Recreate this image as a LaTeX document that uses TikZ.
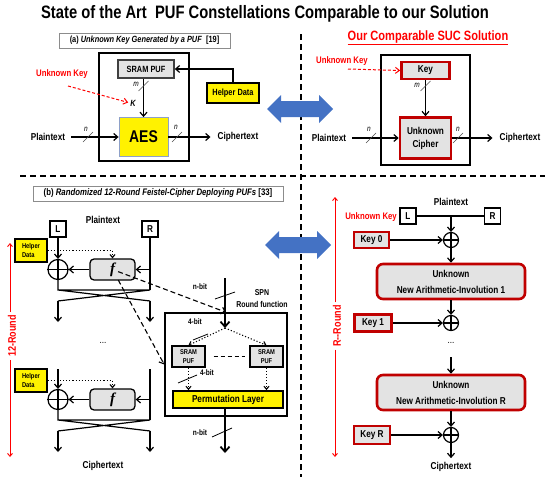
\documentclass[tikz,border=0pt]{standalone}
\usepackage{fontspec}
\setmainfont{Liberation Sans}[FakeStretch=0.82]
\newfontfamily\funcfont{Liberation Serif}
\usetikzlibrary{arrows.meta, positioning, calc}

\definecolor{sucred}{HTML}{C00000}
\definecolor{keyred}{HTML}{FF0000}
\definecolor{boxgray}{HTML}{E3E3E3}
\definecolor{swapblue}{HTML}{4472C4}
\definecolor{aesline}{HTML}{8EA0C8}

\newcommand\fsz[1]{\fontsize{#1}{#1}\selectfont}

\begin{document}
\begin{tikzpicture}[x=1pt, y=-1pt,
    every node/.style={inner sep=0pt, font=\bfseries\fsz{10}},
    frame/.style={draw, line width=1.5pt},
    caption/.style={draw=black!45, line width=0.9pt, font=\bfseries\fsz{9}},
    puf/.style={draw=black!75, fill=boxgray, line width=1.6pt},
    helper/.style={draw, fill=yellow, line width=1.3pt},
    suc/.style={draw=sucred, fill=boxgray, line width=2.6pt},
    half/.style={draw, line width=1.3pt, minimum width=16pt, minimum height=16pt},
    xor/.style={draw, circle, line width=1.2pt},
    wire/.style={line width=1.2pt},
    link/.style={wire, -{Straight Barb[length=4pt, width=7pt]}},
    biglink/.style={line width=1.8pt, -{Straight Barb[length=5pt, width=9pt]}},
    dotlink/.style={dotted, line width=1.1pt, -{Straight Barb[length=3pt, width=5pt]}},
    dashlink/.style={dash pattern=on 5pt off 3pt, line width=1.1pt, -{Straight Barb[length=4pt, width=7pt]}},
    keylink/.style={keyred, dash pattern=on 3pt off 2pt, line width=1pt, -{Straight Barb[length=4pt, width=6pt]}},
    divider/.style={dash pattern=on 6pt off 4pt, line width=1.8pt},
    bluearrow/.style={fill=swapblue},
    busmark/.style={line width=0.7pt, black!70},
    buslbl/.style={font=\itshape\fsz{8}},
    bitlbl/.style={font=\bfseries\fsz{8}},
    roundlbl/.style={keyred, rotate=90, font=\bfseries\fsz{11}},
    roundline/.style={keyred, line width=0.9pt, -{Straight Barb[length=3pt, width=5pt]}},
    ukey/.style={keyred, font=\bfseries\fsz{9.5}},
    pics/bus/.style={code={\draw[busmark] (-5,5) -- (5,-5);}}]

\useasboundingbox (0,0) rectangle (550,479);

\node[font=\bfseries\fsz{18}] (title) at (265,14) {State of the Art\ \ PUF Constellations Comparable to our Solution};

% dividers
\draw[divider] (20,176) -- (545,176);
\draw[divider] (301,34) -- (301,477);

% swap arrows
\foreach \ax/\ay in {267/109, 265/245}
    \fill[bluearrow] (\ax,\ay) -- ++(14,-14) -- ++(0,6) -- ++(38,0) -- ++(0,-6) -- ++(14,14)
        -- ++(-14,14) -- ++(0,-6) -- ++(-38,0) -- ++(0,6) -- cycle;

% (a) key from a PUF
\node[caption, minimum width=171pt, minimum height=15pt] (capA) at (144.5,40.5) {(a) \textit{Unknown Key Generated by a PUF}\ \ [19]};
\node[frame, minimum width=90pt, minimum height=108pt] (frameA) at (144,107) {};
\node[puf, minimum width=56pt, minimum height=18pt, font=\bfseries\fsz{9}] (pufA) at (146,69) {SRAM PUF};
\node[fill=yellow, draw=aesline, line width=0.8pt, minimum width=49pt, minimum height=39pt, font=\bfseries\fsz{17}] (aes) at (143.5,137) {AES};
\node[helper, minimum width=52pt, minimum height=20pt, font=\bfseries\fsz{9}] (helperA) at (233,93) {Helper Data};
\node[ukey] (ukA) at (62,74) {Unknown Key};
\coordinate (ukAtail) at (68,86);
\node[font=\bfseries\itshape\fsz{9}] (kA) at (133,103) {K};
\node (ptA) at (48,137) {Plaintext};
\node (ctA) at (238,137) {Ciphertext};

\draw[link] (pufA.south -| aes.north) -- (aes.north);
\draw[link] (helperA.north) |- (pufA.east);
\draw[keylink, shorten >=2pt] (ukAtail) -- (kA.west);
\draw[link] ([xshift=6pt]ptA.east) -- (aes.west);
\draw[link] (aes.east) -- ([xshift=-7pt]ctA.west);
\pic at (143.5,86) {bus};
\node[buslbl] (mA) at (136,84) {m};
\pic at (88,137) {bus};
\node[buslbl] (nA1) at (86,129) {n};
\pic at (177,137) {bus};
\node[buslbl] (nA2) at (176,127) {n};

% our SUC
\node[font=\bfseries\fsz{13.5}, keyred] (capS) at (428,38) {\underline{Our Comparable SUC Solution}};
\node[frame, minimum width=89pt, minimum height=110pt] (frameS) at (425.5,110) {};
\node[suc, minimum width=48pt, minimum height=17pt] (keyS) at (425.5,70.5) {Key};
\node[suc, minimum width=51pt, minimum height=41pt, align=center, font=\bfseries\fontsize{10}{13}\selectfont] (ciphS) at (425.5,138) {Unknown\\Cipher};
\node[ukey] (ukS) at (342,61) {Unknown Key};
\coordinate (ukStail) at (348,69);
\node (ptS) at (329,138) {Plaintext};
\node (ctS) at (520,138) {Ciphertext};

\draw[link] (keyS) -- (ciphS);
\draw[keylink] (ukStail) -- (keyS.west);
\draw[link] ([xshift=6pt]ptS.east) -- (ciphS.west);
\draw[link] (ciphS.east) -- ([xshift=-7pt]ctS.west);
\pic at (425.5,86) {bus};
\node[buslbl] (mS) at (417,85) {m};
\pic at (371,138) {bus};
\node[buslbl] (nS1) at (369,129) {n};
\pic at (458,138) {bus};
\node[buslbl] (nS2) at (458,129) {n};

% (b) Feistel with PUFs
\node[caption, minimum width=250pt, minimum height=15pt, font=\bfseries\fsz{9.5}] (capB) at (158,193.5) {(b) \textit{Randomized 12-Round Feistel-Cipher Deploying PUFs}\ [33]};
\node (ptB) at (103,220) {Plaintext};
\node[half] (lB) at (58,229) {L};
\node[half] (rB) at (150,229) {R};

\foreach \i/\dy in {1/0, 2/130} {
    \node[xor, minimum size=20pt] (xor\i) at (58,269.5+\dy) {};
    \draw[wire] (xor\i.north) -- (xor\i.south) (xor\i.west) -- (xor\i.east);
    \node[draw, fill=boxgray, rounded corners=4pt, line width=1.3pt, minimum width=45pt, minimum height=21pt,
        font=\funcfont\bfseries\itshape\fsz{15}] (f\i) at (112.5,269.5+\dy) {f};
    \node[helper, line width=1.2pt, minimum width=32pt, minimum height=23pt, align=left,
        font=\bfseries\fontsize{7}{9}\selectfont] (helper\i) at (31,250.5+\dy) {Helper\\Data};
    \coordinate (cl\i) at (58,290+\dy);
    \coordinate (cr\i) at (150,290+\dy);
    \coordinate (dl\i) at (58,301+\dy);
    \coordinate (dr\i) at (150,301+\dy);
    \coordinate (el\i) at (58,322+\dy);
    \coordinate (er\i) at (150,322+\dy);
    \draw[dotlink] (helper\i.east) -| (f\i.north);
    \draw[link] (f\i) -- (xor\i);
    \draw[link] (cr\i |- f\i) -- (f\i);
    \draw[wire] (xor\i.south) -- (cl\i) -- (cr\i) -- (dl\i) (cl\i) -- (dr\i);
    \draw[link] (dl\i) -- (el\i);
    \draw[link] (dr\i) -- (er\i);
}
\coordinate (in2l) at (58,369);
\coordinate (in2r) at (150,369);
\draw[link] (lB) -- (xor1);
\draw[wire] (rB) -- (cr1);
\draw[link] (in2l) -- (xor2);
\draw[wire] (in2r) -- (cr2);
\node[font=\mdseries\fsz{10}] (dotsB) at (103,343) {...};
\node (ctB) at (103,466) {Ciphertext};

\node[roundlbl] (rnd12) at (12,336) {12-Round};
\coordinate (rnd12top) at (10,243);
\coordinate (rnd12bot) at (10,457);
\draw[roundline, shorten <=3pt] (rnd12top |- rnd12.east) -- (rnd12top);
\draw[roundline, shorten <=3pt] (rnd12bot |- rnd12.west) -- (rnd12bot);

% SPN round function
\node[bitlbl] (nbitIn) at (200,287) {n-bit};
\coordinate (spnin) at (225,278);
\coordinate (split) at (225,328);
\node[align=center, font=\bfseries\fontsize{8.5}{12}\selectfont] (spnlbl) at (262,299) {SPN\\Round function};
\node[frame, minimum width=122pt, minimum height=103pt] (frameP) at (226,364.5) {};
\node[puf, draw=black, line width=1.4pt, minimum width=33pt, minimum height=21pt, align=center,
    font=\bfseries\fontsize{7}{9}\selectfont] (pufL) at (188.5,356.5) {SRAM\\PUF};
\node[puf, draw=black, line width=1.4pt, minimum width=33pt, minimum height=21pt, align=center,
    font=\bfseries\fontsize{7}{9}\selectfont] (pufR) at (266.5,356.5) {SRAM\\PUF};
\node[fill=yellow, draw, line width=1.8pt, minimum width=110pt, minimum height=17pt] (perm) at (228,399.5) {Permutation Layer};
\coordinate (spnout) at (225,453);
\node[bitlbl] (bitA) at (195,322) {4-bit};
\node[bitlbl] (bitB) at (207,373) {4-bit};
\node[bitlbl] (nbitOut) at (200,433) {n-bit};

\draw[biglink] (spnin) -- (split);
\draw[dotlink] (split) -- (pufL.north);
\draw[dotlink] (split) -- (pufR.north);
\draw[dash pattern=on 4pt off 3pt, line width=1pt, shorten <=8pt, shorten >=4pt] (pufL) -- (pufR);
\draw[dotlink] (pufL) -- (pufL |- perm.north);
\draw[dotlink] (pufR) -- (pufR |- perm.north);
\draw[biglink] (perm.south -| spnout) -- (spnout);
\draw[line width=0.8pt] (215,299) -- (235,292);
\draw[line width=0.8pt] (193,340) -- (208,334);
\draw[line width=0.8pt] (178,383) -- (197,375);
\draw[line width=0.8pt] (212,437) -- (232,428);

\draw[dashlink, shorten <=6pt] (f1.center) -- (frameP.north);
\draw[dashlink, shorten <=12pt] (f1.center) -- (frameP.west);

% our involution rounds
\node (ptR) at (451,202) {Plaintext};
\node[half] (lR) at (408,216) {L};
\node[half] (rR) at (492.5,216) {R};
\node[ukey, anchor=east] (ukR) at (397,217) {Unknown Key};
\node[xor, minimum size=15pt] (xor0R) at (451,240) {};
\node[suc, minimum width=35pt, minimum height=16pt] (key0) at (371.5,240) {Key 0};
\node[suc, rounded corners=6pt, minimum width=148pt, minimum height=35pt, align=center,
    font=\bfseries\fontsize{10}{16}\selectfont] (inv1) at (451,281.5) {Unknown\\New Arithmetic-Involution 1};
\node[xor, minimum size=15pt] (xor1R) at (451,323) {};
\node[suc, minimum width=37pt, minimum height=17pt] (key1) at (373,323) {Key 1};
\node[font=\mdseries\fsz{10}] (dotsR) at (451,343) {...};
\coordinate (gapR) at (451,357);
\node[suc, rounded corners=6pt, minimum width=148pt, minimum height=35pt, align=center,
    font=\bfseries\fontsize{10}{16}\selectfont] (invR) at (451,392.5) {Unknown\\New Arithmetic-Involution R};
\node[xor, minimum size=15pt] (xorRR) at (451,435) {};
\node[suc, minimum width=36pt, minimum height=18pt] (keyR) at (372,435) {Key R};
\node (ctR) at (451,467) {Ciphertext};

\foreach \x in {xor0R, xor1R, xorRR}
    \draw[wire] (\x.north) -- (\x.south) (\x.west) -- (\x.east);
\draw[wire] (lR) -- (rR);
\draw[link] (lR.east -| xor0R) -- (xor0R);
\draw[link] (key0) -- (xor0R);
\draw[link] (xor0R) -- (inv1);
\draw[link] (inv1) -- (xor1R);
\draw[link] (key1) -- (xor1R);
\draw[link] (gapR) -- (invR);
\draw[link] (invR) -- (xorRR);
\draw[link] (keyR) -- (xorRR);
\draw[link, shorten >=4pt] (xorRR) -- (ctR);

\node[roundlbl] (rndR) at (337,326) {R-{}-Round};
\coordinate (rndRtop) at (335,197);
\coordinate (rndRbot) at (335,457);
\draw[roundline, shorten <=3pt] (rndRtop |- rndR.east) -- (rndRtop);
\draw[roundline, shorten <=3pt] (rndRbot |- rndR.west) -- (rndRbot);
\end{tikzpicture}
\end{document}
